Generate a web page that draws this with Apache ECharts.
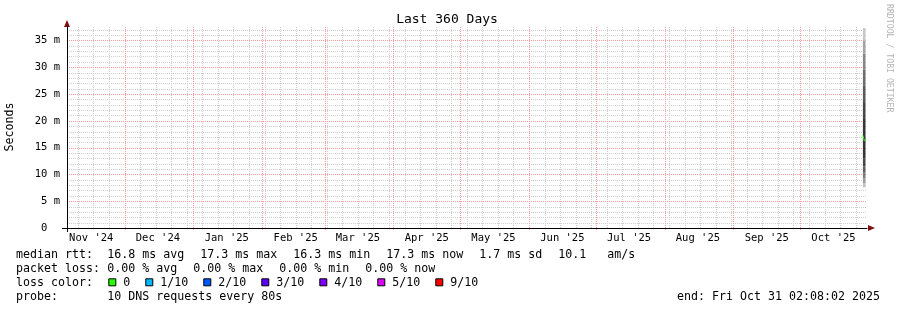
<!DOCTYPE html>
<html><head><meta charset="utf-8">
<script src="https://cdn.jsdelivr.net/npm/echarts@6/dist/echarts.min.js"></script>
<style>html,body{margin:0;padding:0;background:#fff}#c{width:897px;height:310px}</style>
</head><body><div id="c"></div>
<script>
// ---------- data ----------
const chartTitle = 'Last 360 Days';
const yAxisName = 'Seconds';
const endStamp = '2025-10-31T02:08:02Z';
const spanDays = 360;
const monthStarts = ['2024-12-01','2025-01-01','2025-02-01','2025-03-01','2025-04-01','2025-05-01',
  '2025-06-01','2025-07-01','2025-08-01','2025-09-01','2025-10-01'];
const monthLabelDates = ['2024-11-16','2024-12-16','2025-01-16','2025-02-16','2025-03-16','2025-04-16',
  '2025-05-16','2025-06-16','2025-07-16','2025-08-16','2025-09-16','2025-10-16'];
const monthLabels = ["Nov '24","Dec '24","Jan '25","Feb '25","Mar '25","Apr '25",
  "May '25","Jun '25","Jul '25","Aug '25","Sep '25","Oct '25"];
const firstSunday = '2024-11-10';
const yLabelValues = [0,5,10,15,20,25,30,35];
const yMax = 37.5;
// smoke: sorted ping levels (ms) for the sampled period and their shades
const smokeTimes = ['2025-10-29T06:00:00Z','2025-10-30T10:00:00Z'];
const smokeEdges = [7.6, 8.4, 9.3, 10.3, 11.5, 13.0, 20.5, 23.5, 26.5, 29.5, 32.5, 35.0, 37.3];
const smokeShades = ['#c0c0c0','#9c9c9c','#7c7c7c','#606060','#474747','#363636','#474747','#5a5a5a','#6e6e6e','#868686','#a2a2a2','#c8c8c8'];
const medianValues = [17.3, 16.3];
// legend
const rttLabel = 'median rtt:';
const rttStats = ['16.8 ms avg','17.3 ms max','16.3 ms min','17.3 ms now','1.7 ms sd','10.1   am/s'];
const lossLabel = 'packet loss:';
const lossStats = ['0.00 % avg','0.00 % max','0.00 % min','0.00 % now'];
const lossColorLabel = 'loss color:';
const lossLevels = ['0','1/10','2/10','3/10','4/10','5/10','9/10'];
const lossColors = ['#26ff00','#00b8ff','#0059ff','#5e00ff','#7e00ff','#dd00ff','#ff0000'];
const probeLabel = 'probe:';
const probeText = '10 DNS requests every 80s';
const endText = 'end: Fri Oct 31 02:08:02 2025';
const creditText = 'RRDTOOL / TOBI OETIKER';

// ---------- derived ----------
const DAY = 86400000;
const endTime = Date.parse(endStamp);
const startTime = endTime - spanDays * DAY;
const toT = s => Date.parse(s.length === 10 ? s + 'T00:00:00Z' : s);
const monthStartTimes = monthStarts.map(toT);
const labelTimes = monthLabelDates.map(toT);
const weekTimes = [];
for (let t = toT(firstSunday); t < endTime; t += 7 * DAY) weekTimes.push(t);
const yMinorValues = [];
for (let v = 1; v < yMax; v++) if (v % 5 !== 0) yMinorValues.push(v);
const yMajorValues = yLabelValues.filter(v => v > 0);
const smokeT = smokeTimes.map(toT);

const FONT = '"DejaVu Sans Mono", monospace';
const CW = 7.0;
const FS = 11.63;
const GRID = {left: 67, right: 30, top: 27, bottom: 82};
const GRAY = '#cfcfcf', RED = '#ff9a9a';

// grid lines drawn through the axis scales (custom series, crisp 1px)
function vGrid(times, color, tick) {
  return {type: 'custom', silent: true, animation: false, z: 1,
    encode: {x: 0, y: 1}, data: times.map(t => [t, 0]),
    renderItem: (params, api) => {
      const cs = params.coordSys;
      const px = Math.round(api.coord([api.value(0), 0])[0]) + 0.5;
      return {type: 'line', shape: {x1: px, y1: cs.y, x2: px, y2: cs.y + cs.height + tick},
        style: {stroke: color, lineWidth: 1, lineDash: [1, 1]}};
    }};
}
function hGrid(values, color) {
  return {type: 'custom', silent: true, animation: false, z: 1,
    encode: {x: 0, y: 1}, data: values.map(v => [startTime, v]),
    renderItem: (params, api) => {
      const cs = params.coordSys;
      const py = Math.round(api.coord([startTime, api.value(1)])[1]) + 0.5;
      return {type: 'line', shape: {x1: cs.x, y1: py, x2: cs.x + cs.width, y2: py},
        style: {stroke: color, lineWidth: 1, lineDash: [1, 1]}};
    }};
}

// smoke bands: [tStart, tEnd, low, high, shadeIndex]
const smokeData = [];
for (let i = 1; i < smokeEdges.length; i++) {
  smokeData.push([smokeT[0], smokeT[1], smokeEdges[i - 1], smokeEdges[i], i - 1]);
}
const series = [
  vGrid(weekTimes, GRAY, 0),
  hGrid(yMinorValues, GRAY),
  vGrid(monthStartTimes, RED, 2),
  hGrid(yMajorValues, RED),
  {
    type: 'custom', silent: true, animation: false, z: 2,
    encode: {x: [0, 1], y: [2, 3]},
    data: smokeData,
    renderItem: (params, api) => {
      const p1 = api.coord([api.value(0), api.value(3)]);
      const p2 = api.coord([api.value(1), api.value(2)]);
      return {type: 'rect', shape: {x: p1[0], y: p1[1], width: p2[0] - p1[0], height: p2[1] - p1[1]},
        style: {fill: smokeShades[api.value(4)]}};
    }
  },
  {
    type: 'line', step: 'middle', symbol: 'none', z: 3,
    silent: true, animation: false, lineStyle: {color: lossColors[0], width: 1},
    data: smokeT.map((t, i) => [t, medianValues[i]])
  }
];

// ---------- legend / text graphics ----------
const g = [];
function txt(text, x, y, opts) {
  g.push(Object.assign({type: 'text', x: x, y: y, silent: true,
    style: Object.assign({text: text, font: FS + 'px ' + FONT, fill: '#000', align: 'left', verticalAlign: 'middle'}, (opts && opts.style) || {})},
    opts && opts.el || {}));
}
const COL0 = 16, COL1 = 107.3, GAP = 16;
const rowY = [255.3, 269.3, 283.3, 297.3];
txt(rttLabel, COL0, rowY[0]);
let x = COL1;
rttStats.forEach(s => { txt(s, x, rowY[0]); x += s.length * CW + GAP; });
txt(lossLabel, COL0, rowY[1]);
x = COL1;
lossStats.forEach(s => { txt(s, x, rowY[1]); x += s.length * CW + GAP; });
txt(lossColorLabel, COL0, rowY[2]);
x = COL1 + 1;
lossLevels.forEach((s, i) => {
  g.push({type: 'rect', silent: true, shape: {x: x + 0.5, y: rowY[2] - 4.5, width: 7, height: 7},
    style: {fill: lossColors[i], stroke: '#000', lineWidth: 1}});
  txt(s, x + 15, rowY[2]);
  x += 15 + s.length * CW + 15;
});
txt(probeLabel, COL0, rowY[3]);
txt(probeText, COL1, rowY[3]);
txt(endText, 880, rowY[3], {style: {align: 'right'}});
txt(chartTitle, 447, 19.8, {style: {font: '13px ' + FONT, align: 'center'}});
txt(yAxisName, 10, 127, {style: {align: 'center'}, el: {rotation: Math.PI / 2}});
txt(creditText, 889, 4, {style: {font: '8.2px ' + FONT, fill: '#b4b4b4', align: 'left'}, el: {rotation: -Math.PI / 2}});
g.push({type: 'polygon', silent: true, shape: {points: [[64, 27], [70, 27], [67, 20]]}, style: {fill: '#7f1010'}});
g.push({type: 'polygon', silent: true, shape: {points: [[868, 225], [868, 231], [875, 228]]}, style: {fill: '#7f1010'}});
g.push({type: 'line', silent: true, shape: {x1: 62, y1: 228.5, x2: 67, y2: 228.5}, style: {stroke: '#000', lineWidth: 1}});
g.push({type: 'line', silent: true, shape: {x1: 67.5, y1: 228, x2: 67.5, y2: 232}, style: {stroke: '#000', lineWidth: 1}});

const labelFont = {fontFamily: FONT, fontSize: 10.5, color: '#000'};
function monthLabelFor(v) {
  let best = 0;
  labelTimes.forEach((t, i) => { if (Math.abs(t - v) < Math.abs(labelTimes[best] - v)) best = i; });
  return monthLabels[best];
}

const option = {
  animation: false,
  backgroundColor: '#fff',
  grid: GRID,
  xAxis: {type: 'value', position: 'bottom', min: startTime, max: endTime, z: 5,
    axisLine: {show: true, lineStyle: {color: '#000', width: 1}},
    axisTick: {show: false, customValues: monthStartTimes},
    axisLabel: Object.assign({customValues: labelTimes, margin: 5, formatter: monthLabelFor}, labelFont),
    splitLine: {show: false}},
  yAxis: {type: 'value', position: 'left', min: 0, max: yMax, z: 5,
    axisLine: {show: true, lineStyle: {color: '#000', width: 1}},
    axisTick: {show: false, customValues: yMajorValues},
    axisLabel: Object.assign({customValues: yLabelValues, margin: 7,
      formatter: v => v === 0 ? '0  ' : v + ' m'}, labelFont),
    splitLine: {show: false}},
  series: series,
  graphic: g
};
const chart = echarts.init(document.getElementById('c'), null, {renderer: 'canvas'});
chart.setOption(option);
</script></body></html>
